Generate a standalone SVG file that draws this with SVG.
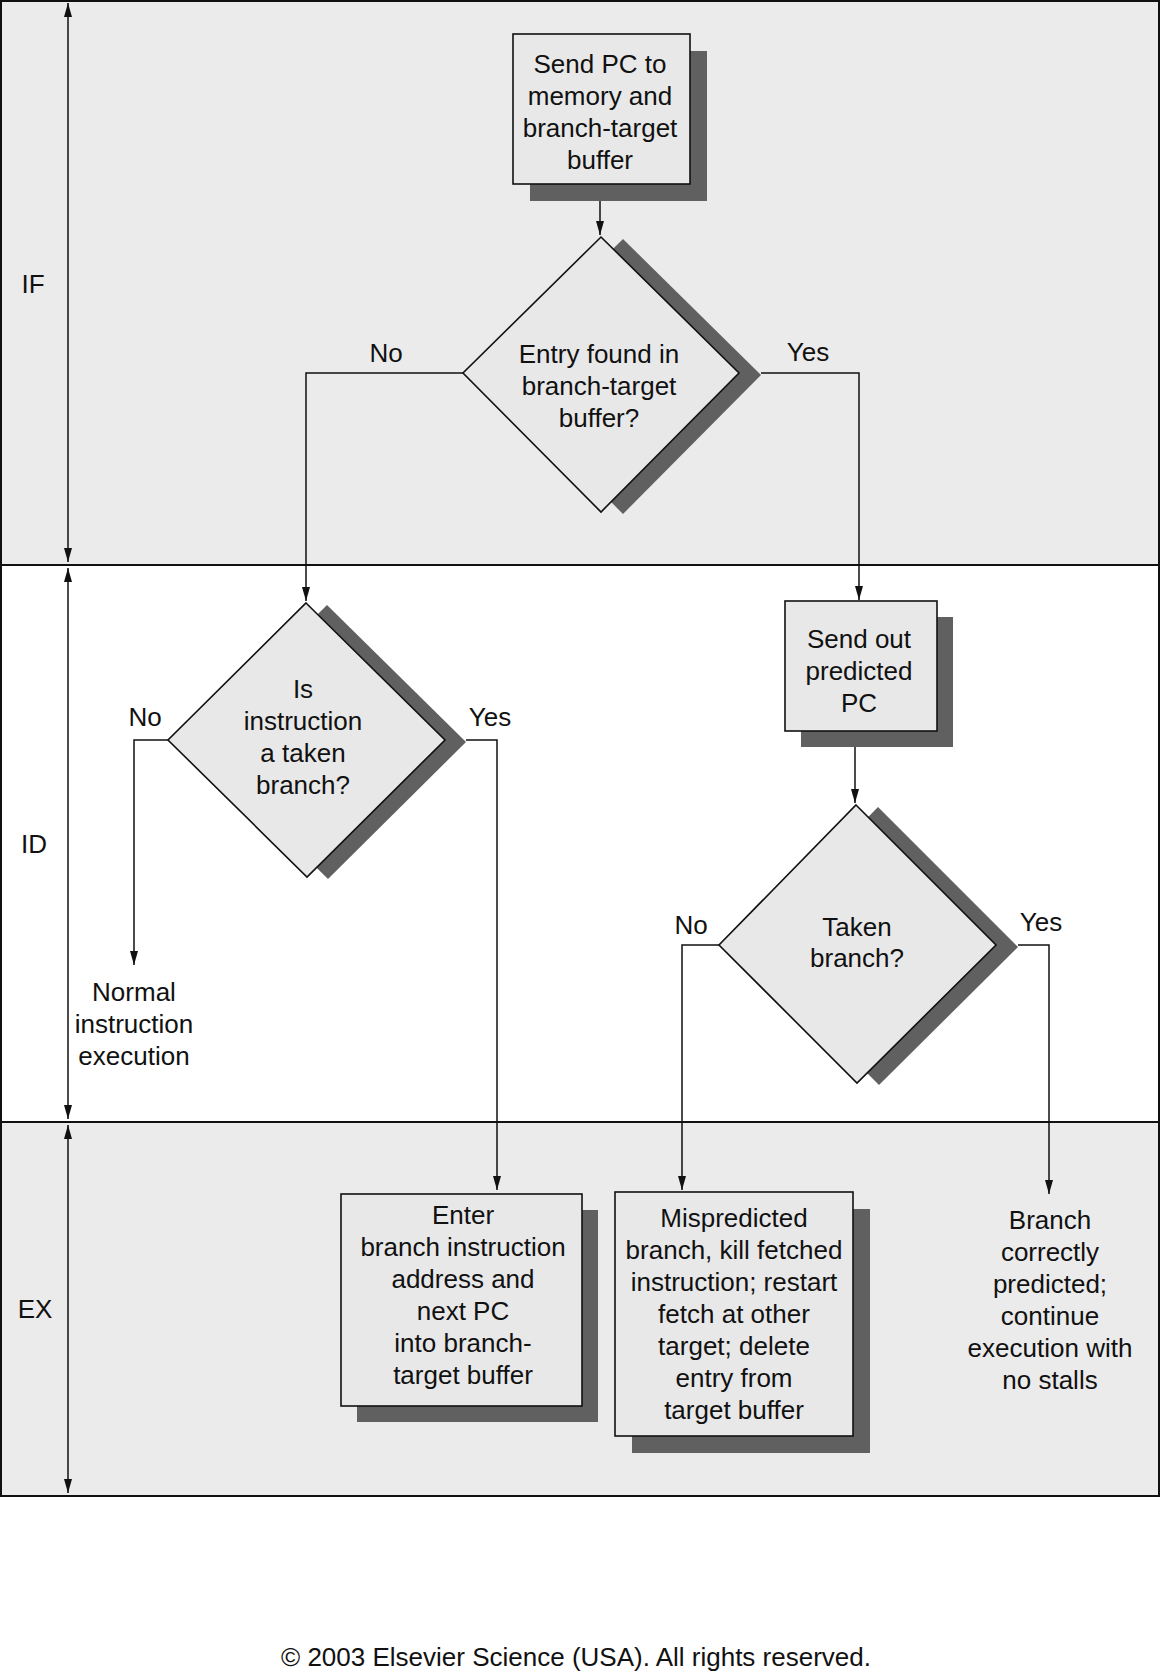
<svg xmlns="http://www.w3.org/2000/svg" width="1160" height="1672" viewBox="0 0 1160 1672">
<defs>
<style>
text{font-family:"Liberation Sans",Arial,sans-serif;font-size:26px;fill:#111;text-anchor:middle}
.lane{stroke:#111;stroke-width:2}
.node{fill:#e8e8e8;stroke:#111;stroke-width:1.6}
.shadow{fill:#606060;stroke:none}
.conn{fill:none;stroke:#111;stroke-width:1.5}
</style>
<marker id="ah" viewBox="0 0 14 8" refX="14" refY="4" markerWidth="14" markerHeight="8" markerUnits="userSpaceOnUse" orient="auto-start-reverse">
<path d="M0,0 L14,4 L0,8 z" fill="#111"/>
</marker>
</defs>
<g id="lanes">
<rect x="1" y="1" width="1158" height="564" fill="#ebebeb"/>
<rect x="1" y="565" width="1158" height="557" fill="#ffffff"/>
<rect x="1" y="1122" width="1158" height="374" fill="#ebebeb"/>
<rect x="1" y="1" width="1158" height="1495" fill="none" class="lane"/>
<line x1="1" y1="565" x2="1159" y2="565" class="lane"/>
<line x1="1" y1="1122" x2="1159" y2="1122" class="lane"/>
<line x1="68" y1="3" x2="68" y2="562" class="conn" marker-start="url(#ah)" marker-end="url(#ah)"/>
<line x1="68" y1="568" x2="68" y2="1119" class="conn" marker-start="url(#ah)" marker-end="url(#ah)"/>
<line x1="68" y1="1125" x2="68" y2="1493" class="conn" marker-start="url(#ah)" marker-end="url(#ah)"/>
<text x="33" y="293">IF</text>
<text x="34" y="853">ID</text>
<text x="35" y="1318">EX</text>
</g>
<g id="connectors">
<line x1="600" y1="184" x2="600" y2="235" class="conn" marker-end="url(#ah)"/>
<polyline points="463,373 306,373 306,601" class="conn" marker-end="url(#ah)"/>
<polyline points="761,373 859,373 859,600" class="conn" marker-end="url(#ah)"/>
<polyline points="168,740 134,740 134,965" class="conn" marker-end="url(#ah)"/>
<polyline points="466,740 497,740 497,1190" class="conn" marker-end="url(#ah)"/>
<line x1="855" y1="731" x2="855" y2="803" class="conn" marker-end="url(#ah)"/>
<polyline points="719,945 682,945 682,1190" class="conn" marker-end="url(#ah)"/>
<polyline points="1018,945 1049,945 1049,1194" class="conn" marker-end="url(#ah)"/>
<text x="386" y="362">No</text>
<text x="808" y="361">Yes</text>
<text x="145" y="726">No</text>
<text x="490" y="726">Yes</text>
<text x="691" y="934">No</text>
<text x="1041" y="931">Yes</text>
</g>
<g id="send-pc">
<rect x="530" y="51" width="177" height="150" class="shadow"/>
<rect x="513" y="34" width="177" height="150" class="node"/>
<text x="600" y="73">Send PC to</text>
<text x="600" y="105">memory and</text>
<text x="600" y="137">branch-target</text>
<text x="600" y="169">buffer</text>
</g>
<g id="entry-found">
<polygon points="623,239 761,375 623,514 485,375" class="shadow"/>
<polygon points="601,237 739,373 601,512 463,373" class="node"/>
<text x="599" y="363">Entry found in</text>
<text x="599" y="395">branch-target</text>
<text x="599" y="427">buffer?</text>
</g>
<g id="is-taken">
<polygon points="327,605 466,742 328,879 189,742" class="shadow"/>
<polygon points="306,603 445,740 307,877 168,740" class="node"/>
<text x="303" y="698">Is</text>
<text x="303" y="730">instruction</text>
<text x="303" y="762">a taken</text>
<text x="303" y="794">branch?</text>
</g>
<g id="normal-exec">
<text x="134" y="1001">Normal</text>
<text x="134" y="1033">instruction</text>
<text x="134" y="1065">execution</text>
</g>
<g id="send-out">
<rect x="801" y="617" width="152" height="130" class="shadow"/>
<rect x="785" y="601" width="152" height="130" class="node"/>
<text x="859" y="648">Send out</text>
<text x="859" y="680">predicted</text>
<text x="859" y="712">PC</text>
</g>
<g id="taken-branch">
<polygon points="878,807 1018,947 879,1085 741,947" class="shadow"/>
<polygon points="856,805 996,945 857,1083 719,945" class="node"/>
<text x="857" y="936">Taken</text>
<text x="857" y="967">branch?</text>
</g>
<g id="enter-btb">
<rect x="357" y="1210" width="241" height="212" class="shadow"/>
<rect x="341" y="1194" width="241" height="212" class="node"/>
<text x="463" y="1224">Enter</text>
<text x="463" y="1256">branch instruction</text>
<text x="463" y="1288">address and</text>
<text x="463" y="1320">next PC</text>
<text x="463" y="1352">into branch-</text>
<text x="463" y="1384">target buffer</text>
</g>
<g id="mispredicted">
<rect x="632" y="1209" width="238" height="244" class="shadow"/>
<rect x="615" y="1192" width="238" height="244" class="node"/>
<text x="734" y="1227">Mispredicted</text>
<text x="734" y="1259">branch, kill fetched</text>
<text x="734" y="1291">instruction; restart</text>
<text x="734" y="1323">fetch at other</text>
<text x="734" y="1355">target; delete</text>
<text x="734" y="1387">entry from</text>
<text x="734" y="1419">target buffer</text>
</g>
<g id="correct">
<text x="1050" y="1229">Branch</text>
<text x="1050" y="1261">correctly</text>
<text x="1050" y="1293">predicted;</text>
<text x="1050" y="1325">continue</text>
<text x="1050" y="1357">execution with</text>
<text x="1050" y="1389">no stalls</text>
</g>
<text x="576" y="1666">© 2003 Elsevier Science (USA). All rights reserved.</text>
</svg>
